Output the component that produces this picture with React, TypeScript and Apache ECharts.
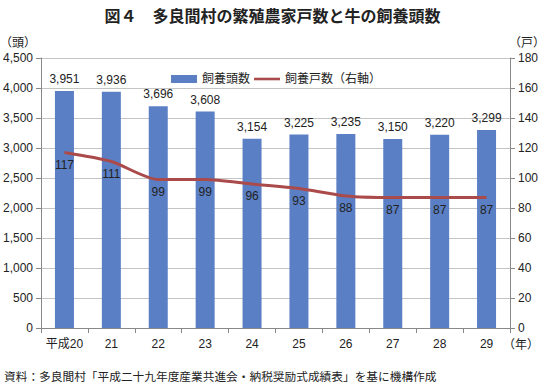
import React, { useEffect, useRef } from "react";
import * as echarts from "echarts";

const categories = ["平成20", "21", "22", "23", "24", "25", "26", "27", "28", "29"];
const headCounts = [3951, 3936, 3696, 3608, 3154, 3225, 3235, 3150, 3220, 3299];
const farmCounts = [117, 111, 99, 99, 96, 93, 88, 87, 87, 87];

const titleText = "図４　多良間村の繁殖農家戸数と牛の飼養頭数";
const sourceText = "資料：多良間村「平成二十九年度産業共進会・納税奨励式成績表」を基に機構作成";
const leftUnit = "（頭）";
const rightUnit = "（戸）";
const xUnit = "（年）";

const FONT = "'Liberation Sans', 'Noto Sans CJK JP', sans-serif";

export default function App() {
  const ref = useRef<HTMLDivElement>(null);
  useEffect(() => {
    document.body.style.margin = "0";
    const chart = echarts.init(ref.current!, null, { renderer: "svg" });
    chart.setOption({
      animation: false,
      backgroundColor: "#ffffff",
      textStyle: { fontFamily: FONT },
      title: {
        text: titleText,
        left: "center",
        top: 3,
        textStyle: { fontSize: 16, fontWeight: "bold", color: "#222", fontFamily: FONT },
      },
      legend: {
        top: 68,
        left: 166,
        itemGap: 4,
        itemWidth: 26,
        itemHeight: 8,
        textStyle: { fontSize: 12, color: "#222", fontFamily: FONT },
        data: [
          { name: "飼養頭数", icon: "rect" },
          { name: "飼養戸数（右軸）", icon: "path://M0,0L30,0L30,3L0,3Z" },
        ],
      },
      grid: { left: 41, right: 35, top: 58, bottom: 56, outerBoundsMode: "none", containLabel: false },
      xAxis: {
        type: "category",
        data: categories,
        axisLine: { lineStyle: { color: "#888" } },
        axisTick: { show: true, alignWithLabel: false, interval: 0, length: 5, lineStyle: { color: "#888" } },
        axisLabel: { fontSize: 12, color: "#222", margin: 10, interval: 0 },
      },
      yAxis: [
        {
          type: "value",
          min: 0,
          max: 4500,
          interval: 500,
          axisLine: { show: true, lineStyle: { color: "#888" } },
          axisTick: { show: true, length: 5, lineStyle: { color: "#888" } },
          axisLabel: {
            fontSize: 12,
            color: "#222",
            margin: 8,
            formatter: (v: number) => v.toLocaleString("en-US"),
          },
          splitLine: { lineStyle: { color: "#c4c4c4" } },
        },
        {
          type: "value",
          min: 0,
          max: 180,
          interval: 20,
          axisLine: { show: true, lineStyle: { color: "#888" } },
          axisTick: { show: true, length: 5, lineStyle: { color: "#888" } },
          axisLabel: { fontSize: 12, color: "#222", margin: 8 },
          splitLine: { show: false },
        },
      ],
      series: [
        {
          name: "飼養頭数",
          type: "bar",
          data: headCounts,
          barWidth: 19,
          itemStyle: { color: "#5B7FC4" },
          label: {
            show: true,
            position: "top",
            distance: 6,
            fontSize: 12,
            color: "#222",
            formatter: (p: any) => Number(p.value).toLocaleString("en-US"),
          },
        },
        {
          name: "飼養戸数（右軸）",
          type: "line",
          yAxisIndex: 1,
          data: farmCounts,
          smooth: 0.25,
          symbol: "circle",
          symbolSize: 0.01,
          showSymbol: true,
          lineStyle: { color: "#AB4A4A", width: 3 },
          itemStyle: { color: "#AB4A4A" },
          label: {
            show: true,
            position: "bottom",
            distance: 6,
            fontSize: 12,
            color: "#222",
          },
        },
      ],
      graphic: [
        {
          type: "text",
          left: 0,
          top: 37,
          style: { text: leftUnit, fontSize: 12, fill: "#222", fontFamily: FONT },
        },
        {
          type: "text",
          left: 509,
          top: 37,
          style: { text: rightUnit, fontSize: 12, fill: "#222", fontFamily: FONT },
        },
        {
          type: "text",
          left: 503,
          top: 339,
          style: { text: xUnit, fontSize: 12, fill: "#222", fontFamily: FONT },
        },
        {
          type: "text",
          left: 4,
          top: 371,
          style: { text: sourceText, fontSize: 11.7, fill: "#222", fontFamily: FONT },
        },
      ],
    });
    return () => chart.dispose();
  }, []);
  return <div ref={ref} style={{ width: 545, height: 384 }} />;
}
